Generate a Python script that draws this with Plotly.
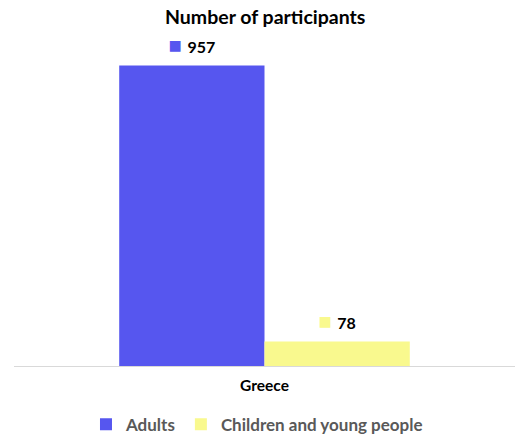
import plotly.graph_objects as go

categories = ["Greece"]
series_names = ["Adults", "Children and young people"]
adults = [957]
children = [78]
colors = ["#5656EF", "#F9F98E"]

FONT = "Lato"

fig = go.Figure()
for i, (name, vals, col) in enumerate(zip(series_names, [adults, children], colors)):
    fig.add_trace(go.Bar(
        x=categories, y=vals, name=f"<b>{name}</b>",
        marker=dict(color=col, line=dict(width=0)),
        offsetgroup=str(i), alignmentgroup="a",
    ))
for i, (name, vals, col) in enumerate(zip(series_names, [adults, children], colors)):
    fig.add_trace(go.Scatter(
        x=categories, y=vals, mode="markers+text", showlegend=False,
        marker=dict(size=12, opacity=0),
        offsetgroup=str(i), alignmentgroup="a",
        text=[f"<span style='color:{col};font-size:22px'>■ </span><b>{v}</b>" for v in vals],
        textposition="top center", cliponaxis=False,
        textfont=dict(family=FONT, size=16, color="#000000"),
    ))

fig.update_layout(
    width=515, height=434,
    barmode="group", bargap=0.42, bargroupgap=0,
    scattermode="group", scattergap=0.42,
    paper_bgcolor="white", plot_bgcolor="white",
    margin=dict(l=14, r=0, t=52, b=68, autoexpand=False),
    title=dict(text="<b>Number of participants</b>", x=0.515, xanchor="center",
               y=0.96, yanchor="middle",
               font=dict(family=FONT, size=19.5, color="#000000")),
    font=dict(family=FONT),
    xaxis=dict(showline=True, linecolor="#D9D9D9", linewidth=1, ticks="",
               tickvals=categories, ticktext=[f"<b>{c}</b>" for c in categories],
               tickfont=dict(family=FONT, size=15.5, color="#000000"),
               ticklabelstandoff=5),
    yaxis=dict(range=[0, 1000], visible=False, showgrid=False),
    legend=dict(orientation="h", x=0.485, xanchor="center", y=-0.13, yanchor="top",
                font=dict(family=FONT, size=17, color="#595959"),
                itemwidth=30),
    showlegend=True,
)

fig.write_html("out.html", config={"displayModeBar": False, "staticPlot": True},
               post_script="document.body.style.margin='0';")
